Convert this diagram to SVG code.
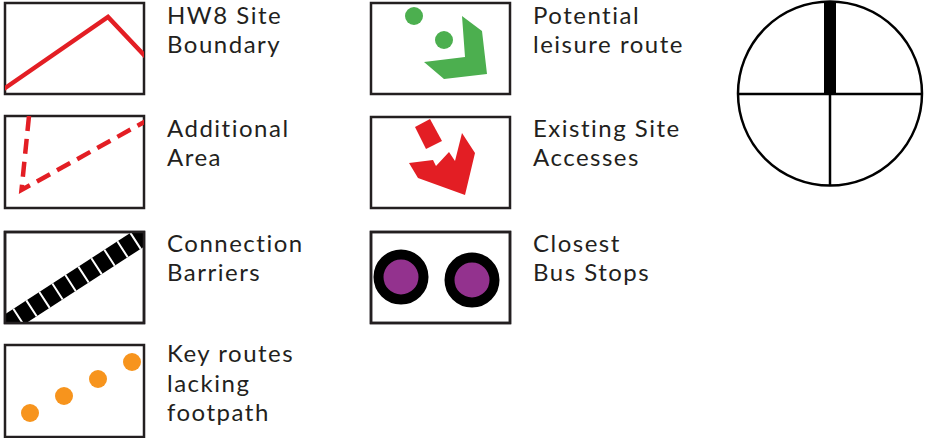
<svg xmlns="http://www.w3.org/2000/svg" width="925" height="438" viewBox="0 0 925 438">
<style>
.box{fill:#fff;stroke:#231f20;stroke-width:2.5}
.lbl{font-family:Lato,"Open Sans","Liberation Sans",sans-serif;font-size:24px;letter-spacing:1.5px;fill:#231f20}
.red{fill:none;stroke:#e31e24;stroke-width:4.5}
.org{fill:#f7941d}
.grn{fill:#4caf4f}
.rfill{fill:#e31e24}
.stop{fill:#93328e;stroke:#000;stroke-width:10}
.cmp{fill:none;stroke:#000;stroke-width:2.5}
</style>
<defs>
<clipPath id="c3"><rect x="5" y="232" width="139" height="91"/></clipPath>
<clipPath id="c1"><rect x="5" y="3" width="139" height="91"/></clipPath>
<clipPath id="c2"><rect x="5" y="116" width="139" height="92"/></clipPath>
<clipPath id="c7"><rect x="371" y="232" width="139" height="91"/></clipPath>
</defs>

<g id="site-boundary">
<rect class="box" x="5" y="3" width="139" height="91"/>
<polyline class="red" clip-path="url(#c1)" points="3,89.5 108,17 146,57"/>
<text class="lbl" x="167" y="24">HW8 Site</text>
<text class="lbl" x="167" y="53">Boundary</text>
</g>

<g id="additional-area">
<rect class="box" x="5" y="116" width="139" height="92"/>
<polyline class="red" clip-path="url(#c2)" stroke-dasharray="15 8" points="29,116 21.5,190 146,121"/>
<text class="lbl" x="167" y="137">Additional</text>
<text class="lbl" x="167" y="166">Area</text>
</g>

<g id="connection-barriers">
<rect class="box" x="5" y="232" width="139" height="91"/>
<g clip-path="url(#c3)">
<line x1="-5" y1="332" x2="160" y2="225" stroke="#000" stroke-width="19"/>
<line x1="-5" y1="332" x2="160" y2="225" stroke="#fff" stroke-width="19" stroke-dasharray="2 13.5" stroke-dashoffset="4"/>
</g>
<rect x="5" y="232" width="139" height="91" fill="none" stroke="#231f20" stroke-width="2.5"/>
<text class="lbl" x="167" y="252">Connection</text>
<text class="lbl" x="167" y="281">Barriers</text>
</g>

<g id="key-routes">
<rect class="box" x="5" y="345" width="139" height="92"/>
<circle class="org" cx="30" cy="413" r="9"/>
<circle class="org" cx="64" cy="396" r="9"/>
<circle class="org" cx="98" cy="379" r="9"/>
<circle class="org" cx="132" cy="362" r="9"/>
<text class="lbl" x="167" y="362">Key routes</text>
<text class="lbl" x="167" y="392">lacking</text>
<text class="lbl" x="167" y="421">footpath</text>
</g>

<g id="leisure-route">
<rect class="box" x="371" y="3" width="139" height="91"/>
<circle class="grn" cx="414" cy="16" r="9"/>
<circle class="grn" cx="444" cy="40" r="9"/>
<polygon class="grn" points="462,16 482,31 487,74 444,79 424,62 465,57"/>
<text class="lbl" x="533" y="24">Potential</text>
<text class="lbl" x="533" y="53">leisure route</text>
</g>

<g id="site-accesses">
<rect class="box" x="371" y="117" width="139" height="91"/>
<polygon class="rfill" points="415,127 430,119 442,141 426,149"/>
<polygon class="rfill" points="409,163 433,160 436,166 449,152 455,161 462,133 475,153 465,195 418,178"/>
<text class="lbl" x="533" y="137">Existing Site</text>
<text class="lbl" x="533" y="166">Accesses</text>
</g>

<g id="bus-stops">
<rect class="box" x="371" y="232" width="139" height="91"/>
<g clip-path="url(#c7)">
<circle class="stop" cx="401" cy="277" r="22.5"/>
<circle class="stop" cx="472" cy="280" r="22.5"/>
</g>
<rect x="371" y="232" width="139" height="91" fill="none" stroke="#231f20" stroke-width="2.5"/>
<text class="lbl" x="533" y="252">Closest</text>
<text class="lbl" x="533" y="281">Bus Stops</text>
</g>

<g id="compass">
<circle class="cmp" cx="830" cy="93.5" r="92"/>
<line class="cmp" x1="738" y1="94" x2="922" y2="94"/>
<line class="cmp" x1="830" y1="94" x2="830" y2="185.5"/>
<rect x="824" y="2" width="12" height="92" fill="#000"/>
</g>

<g id="connectors"></g>
</svg>
